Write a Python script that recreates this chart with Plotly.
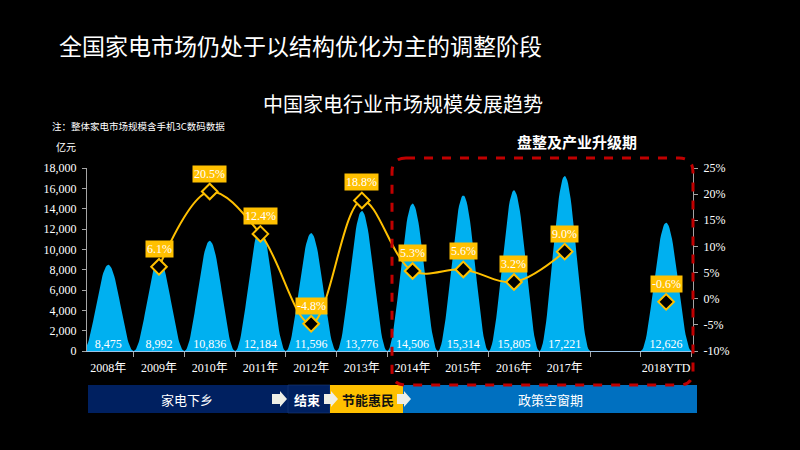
import numpy as np
import plotly.graph_objects as go

# ---------------- data ----------------
categories = ["2008年", "2009年", "2010年", "2011年", "2012年", "2013年",
              "2014年", "2015年", "2016年", "2017年", "2018YTD"]
market_size = [8475, 8992, 10836, 12184, 11596, 13776, 14506, 15314, 15805, 17221, 12626]
growth_pct = [None, 6.1, 20.5, 12.4, -4.8, 18.8, 5.3, 5.6, 3.2, 9.0, -0.6]
left_ticks = [0, 2000, 4000, 6000, 8000, 10000, 12000, 14000, 16000, 18000]
right_ticks = [-10, -5, 0, 5, 10, 15, 20, 25]

title_text = "全国家电市场仍处于以结构优化为主的调整阶段"
subtitle_text = "中国家电行业市场规模发展趋势"
note_text = "注：整体家电市场规模含手机3C数码数据"
unit_text = "亿元"
phase_text = "盘整及产业升级期"
banner_texts = ["家电下乡", "结束", "节能惠民", "政策空窗期"]

# ---------------- positions ----------------
GAP_SLOTS = 1  # empty slot before the YTD column
xpos = list(range(len(categories) - 1)) + [len(categories) - 1 + GAP_SLOTS]

W, H = 800, 450
L, R, T, B = 87, 693, 168, 351


def fx(px):
    return (px - L) / (R - L)


def fy(py):
    return (B - py) / (B - T)


BLUE = "#00B0F0"
GOLD = "#FFC000"
SERIF = "Liberation Serif, Times New Roman, Noto Sans CJK SC, serif"
CJK = "Noto Sans CJK SC, sans-serif"

fig = go.Figure()

# bell shaped columns
bx, by = [], []
t = np.linspace(-0.5, 0.5, 61)
prof = ((1 + np.cos(2 * np.pi * t)) / 2) ** 1.0
for xc, v in zip(xpos, market_size):
    bx += list(xc + t) + [None]
    by += list(v * prof) + [None]
fig.add_trace(go.Scatter(x=bx, y=by, mode="lines", fill="toself", fillcolor=BLUE,
                         line=dict(width=0, color=BLUE), hoverinfo="skip", showlegend=False))

# value labels at the base
fig.add_trace(go.Scatter(x=xpos, y=[0] * len(xpos), mode="text",
                         text=[f"{v:,}" for v in market_size], textposition="top center",
                         textfont=dict(family=SERIF, size=12, color="white"),
                         showlegend=False, hoverinfo="skip"))

# growth line (2009-2017) and isolated YTD marker
lx, ly = [], []
for xc, g in zip(xpos, growth_pct):
    if g is None:
        continue
    if lx and xc - lx[-1] > 1:
        lx.append(None)
        ly.append(None)
    lx.append(xc)
    ly.append(g)
fig.add_trace(go.Scatter(x=lx, y=ly, yaxis="y2", mode="lines+markers",
                         line=dict(color=GOLD, width=2, shape="spline", smoothing=1),
                         connectgaps=False,
                         marker=dict(symbol="diamond", size=12, color="black",
                                     line=dict(color=GOLD, width=2)),
                         showlegend=False))

annotations = []
for xc, g in zip(xpos, growth_pct):
    if g is None:
        continue
    annotations.append(dict(x=xc, y=g, xref="x", yref="y2", text=f"{g:.1f}%",
                            showarrow=False, yshift=18, bgcolor=GOLD, borderpad=1,
                            font=dict(family=SERIF, size=12, color="white")))

# texts
annotations += [
    dict(x=fx(57), y=fy(45), xref="paper", yref="paper", xanchor="left", yanchor="middle",
         text=title_text, showarrow=False, font=dict(family=CJK, size=23, color="white")),
    dict(x=fx(403), y=fy(103), xref="paper", yref="paper", xanchor="center", yanchor="middle",
         text=subtitle_text, showarrow=False, font=dict(family=CJK, size=20, color="white")),
    dict(x=fx(50), y=fy(126), xref="paper", yref="paper", xanchor="left", yanchor="middle",
         text=note_text, showarrow=False, font=dict(family=CJK, size=9.5, color="white")),
    dict(x=fx(54), y=fy(146), xref="paper", yref="paper", xanchor="left", yanchor="middle",
         text=unit_text, showarrow=False, font=dict(family=CJK, size=10, color="white")),
    dict(x=fx(577), y=fy(141), xref="paper", yref="paper", xanchor="center", yanchor="middle",
         text=f"<b>{phase_text}</b>", showarrow=False, font=dict(family=CJK, size=15, color="white")),
    dict(x=fx(187), y=fy(399), xref="paper", yref="paper", xanchor="center", yanchor="middle",
         text=banner_texts[0], showarrow=False, font=dict(family=CJK, size=13, color="white")),
    dict(x=fx(307), y=fy(399), xref="paper", yref="paper", xanchor="center", yanchor="middle",
         text=f"<b>{banner_texts[1]}</b>", showarrow=False, font=dict(family=CJK, size=13, color="white")),
    dict(x=fx(368), y=fy(399), xref="paper", yref="paper", xanchor="center", yanchor="middle",
         text=f"<b>{banner_texts[2]}</b>", showarrow=False, font=dict(family=CJK, size=13, color="#111111")),
    dict(x=fx(550), y=fy(399), xref="paper", yref="paper", xanchor="center", yanchor="middle",
         text=banner_texts[3], showarrow=False, font=dict(family=CJK, size=13, color="white")),
]

shapes = []


def rect(x0, y0, x1, y1, color, line=None):
    shapes.append(dict(type="rect", xref="paper", yref="paper", x0=fx(x0), x1=fx(x1),
                       y0=fy(y1), y1=fy(y0), fillcolor=color,
                       line=dict(width=0) if line is None else line, layer="above"))


rect(88, 385, 288, 413, "#002060")
rect(288, 385, 330, 413, "#002060", line=dict(width=0.6, color="#1a3a78"))
rect(330, 385, 403, 413, GOLD)
rect(403, 385, 697, 413, "#0070C0")


def arrow(x0, x1, yc):
    xh = x1 - 7
    pts = [(x0, yc - 5), (xh, yc - 5), (xh, yc - 8), (x1, yc), (xh, yc + 8), (xh, yc + 5), (x0, yc + 5)]
    path = "M " + " L ".join(f"{fx(a):.5f},{fy(b):.5f}" for a, b in pts) + " Z"
    shapes.append(dict(type="path", xref="paper", yref="paper", path=path,
                       fillcolor="#EEEEE6", line=dict(width=0), layer="above"))


arrow(272, 287, 399)
arrow(324, 338, 399)
arrow(397, 411, 399)

# red dashed rounded rectangle
x0, x1, y0, y1, r = 392, 693, 158, 385, 14
pts_path = (f"M {fx(x0 + r)},{fy(y0)} L {fx(x1 - r)},{fy(y0)} Q {fx(x1)},{fy(y0)} {fx(x1)},{fy(y0 + r)} "
            f"L {fx(x1)},{fy(y1 - r)} Q {fx(x1)},{fy(y1)} {fx(x1 - r)},{fy(y1)} "
            f"L {fx(x0 + r)},{fy(y1)} Q {fx(x0)},{fy(y1)} {fx(x0)},{fy(y1 - r)} "
            f"L {fx(x0)},{fy(y0 + r)} Q {fx(x0)},{fy(y0)} {fx(x0 + r)},{fy(y0)} Z")
shapes.append(dict(type="path", xref="paper", yref="paper", path=pts_path,
                   line=dict(color="#C00000", width=3, dash="dash"), layer="above"))

xmin, xmax = -0.42, xpos[-1] + 0.53
fig.update_layout(
    width=W, height=H,
    paper_bgcolor="black", plot_bgcolor="black",
    margin=dict(l=L, r=W - R, t=T, b=H - B),
    showlegend=False,
    xaxis=dict(range=[xmin, xmax], tickmode="array", tickvals=xpos, ticktext=categories,
               ticks="", showgrid=False, zeroline=False, showline=True, linecolor="#9DC3E6",
               linewidth=1, ticklabelstandoff=6,
               tickfont=dict(family=SERIF, size=12, color="white"),
               minor=dict(tickmode="array",
                          tickvals=[v + 0.5 for v in range(-1, int(xmax) + 1) if xmin < v + 0.5 < xmax],
                          ticks="outside", ticklen=5, tickcolor="#A6A6A6", showgrid=False)),
    yaxis=dict(range=[0, 18000], tickmode="array", tickvals=left_ticks,
               ticktext=[f"{v:,}" for v in left_ticks], showgrid=False, zeroline=False,
               showline=True, linecolor="#A6A6A6", ticks="outside", ticklen=4,
               tickcolor="#A6A6A6", ticklabelstandoff=3,
               tickfont=dict(family=SERIF, size=12, color="white")),
    yaxis2=dict(range=[-10, 25], overlaying="y", side="right", tickmode="array",
                tickvals=right_ticks, ticktext=[f"{v}%" for v in right_ticks],
                showgrid=False, zeroline=False, showline=True, linecolor="#A6A6A6",
                ticks="outside", ticklen=4, tickcolor="#A6A6A6", ticklabelstandoff=3,
                tickfont=dict(family=SERIF, size=12, color="white")),
    annotations=annotations,
    shapes=shapes,
)

fig.write_html("out.html", config={"displayModeBar": False},
               post_script="document.body.style.margin='0';document.body.style.background='black';")
